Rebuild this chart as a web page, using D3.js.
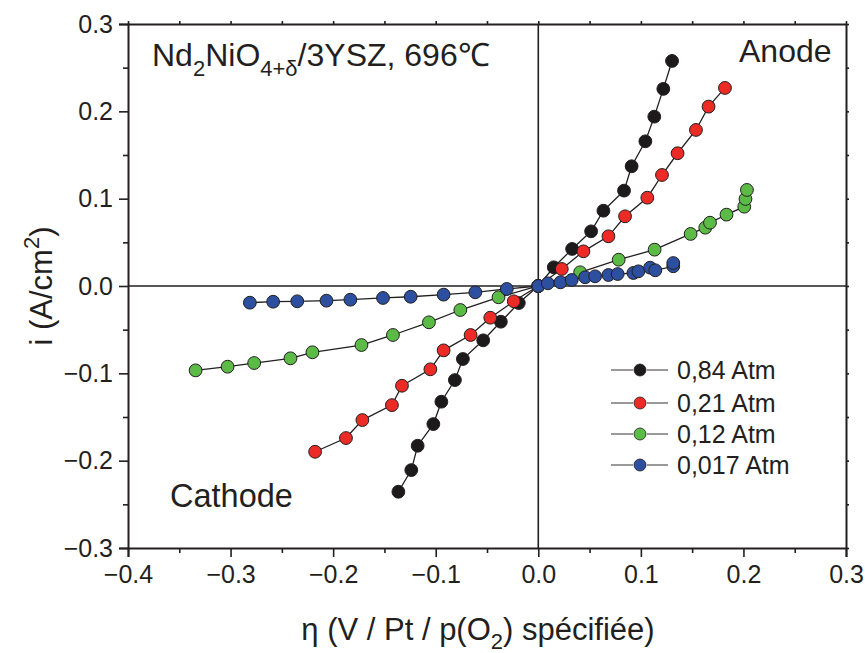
<!DOCTYPE html>
<html><head><meta charset="utf-8">
<script src="https://cdn.jsdelivr.net/npm/d3@7"></script>
<style>
body{margin:0;background:#fff}
text{font-family:"Liberation Sans",Arial,Helvetica,sans-serif;fill:#231f20}
</style>
</head><body>
<svg id="c" width="865" height="653"></svg>
<script>
// ---- data (eta in V, i in A/cm2) ----
const seriesLabels = ["0,84 Atm", "0,21 Atm", "0,12 Atm", "0,017 Atm"];
const seriesColors = ["#1c1a1b", "#ec2a26", "#5cbb47", "#2d4f9f"];
const atm084 = [[-0.1364,-0.2356],[-0.1238,-0.2108],[-0.1176,-0.1829],[-0.1023,-0.1581],[-0.0945,-0.1325],[-0.0813,-0.1077],[-0.0735,-0.0836],[-0.0537,-0.0622],[-0.0365,-0.0409],[-0.0190,-0.0195],[0,0],[0.0151,0.0214],[0.0330,0.0424],[0.0515,0.0626],[0.0635,0.0862],[0.0836,0.1092],[0.0910,0.1371],[0.1044,0.1657],[0.1131,0.1939],[0.1219,0.2257],[0.1304,0.2577]];
const atm021 = [[-0.2176,-0.1898],[-0.1875,-0.1741],[-0.1715,-0.1535],[-0.1427,-0.1364],[-0.1329,-0.1142],[-0.1052,-0.0954],[-0.0923,-0.0737],[-0.0660,-0.0561],[-0.0468,-0.0363],[-0.0239,-0.0175],[0,0],[0.0229,0.0195],[0.0440,0.0397],[0.0684,0.0569],[0.0846,0.0798],[0.1063,0.1011],[0.1206,0.1271],[0.1358,0.1520],[0.1537,0.1787],[0.1660,0.2054],[0.1820,0.2268]];
const atm012 = [[-0.3341,-0.0966],[-0.3029,-0.0924],[-0.2770,-0.0882],[-0.2416,-0.0828],[-0.2202,-0.0759],[-0.1724,-0.0676],[-0.1417,-0.0561],[-0.1066,-0.0416],[-0.0760,-0.0275],[-0.0388,-0.0129],[0,0],[0.0408,0.0157],[0.0784,0.0301],[0.1134,0.0416],[0.1485,0.0596],[0.1628,0.0668],[0.1674,0.0725],[0.1835,0.0817],[0.2008,0.0908],[0.2020,0.0997],[0.2034,0.1100]];
const atm0017 = [[-0.2812,-0.0191],[-0.2585,-0.0180],[-0.2350,-0.0175],[-0.2065,-0.0168],[-0.1832,-0.0157],[-0.1514,-0.0137],[-0.1244,-0.0123],[-0.0923,-0.0099],[-0.0614,-0.0072],[-0.0307,-0.0034],[0,0],[0.0093,0.0031],[0.0216,0.0042],[0.0326,0.0069],[0.0457,0.0100],[0.0554,0.0111],[0.0684,0.0126],[0.0774,0.0137],[0.0927,0.0149],[0.0976,0.0168],[0.1090,0.0210],[0.1141,0.0180],[0.1316,0.0226],[0.1316,0.0263]];
const xTicks = [-0.4,-0.3,-0.2,-0.1,0.0,0.1,0.2,0.3];
const yTicks = [-0.3,-0.2,-0.1,0.0,0.1,0.2,0.3];
const xMinor = [-0.35,-0.25,-0.15,-0.05,0.05,0.15,0.25];
const yMinor = [-0.25,-0.15,-0.05,0.05,0.15,0.25];

const allSeries = [atm084, atm021, atm012, atm0017];

const svg = d3.select("#c");
const L = 128, R = 846, T = 24, B = 548;
const x = d3.scaleLinear().domain([-0.4, 0.3]).range([L, R]);
const y = d3.scaleLinear().domain([-0.3, 0.3]).range([B, T]);
const fmt = d3.format(".1f");

// zero lines
svg.append("line").attr("x1", x(0)).attr("x2", x(0)).attr("y1", T).attr("y2", B).attr("stroke", "#231f20").attr("stroke-width", 1.6);
svg.append("line").attr("x1", L).attr("x2", R).attr("y1", y(0)).attr("y2", y(0)).attr("stroke", "#231f20").attr("stroke-width", 1.6);

// axes
const gx = svg.append("g").attr("transform", `translate(0,${B})`)
  .call(d3.axisBottom(x).tickValues(xTicks).tickFormat(fmt).tickSize(9).tickPadding(8));
svg.append("g").attr("transform", `translate(0,${B})`)
  .call(d3.axisBottom(x).tickValues(xMinor).tickFormat("").tickSize(5)).select(".domain").remove();
const gy = svg.append("g").attr("transform", `translate(${L},0)`)
  .call(d3.axisLeft(y).tickValues(yTicks).tickFormat(fmt).tickSize(9).tickPadding(6));
svg.append("g").attr("transform", `translate(${L},0)`)
  .call(d3.axisLeft(y).tickValues(yMinor).tickFormat("").tickSize(5)).select(".domain").remove();
// mirrored small ticks
svg.append("g").attr("transform", `translate(0,${T})`)
  .call(d3.axisTop(x).tickValues(xTicks.concat(xMinor)).tickFormat("").tickSize(3).tickSizeOuter(0));
svg.append("g").attr("transform", `translate(${R},0)`)
  .call(d3.axisRight(y).tickValues(yTicks.concat(yMinor)).tickFormat("").tickSize(3).tickSizeOuter(0));

svg.selectAll(".domain").attr("stroke", "#231f20").attr("stroke-width", 2);
svg.selectAll(".tick line").attr("stroke", "#231f20").attr("stroke-width", 1.6);
gx.selectAll("text").attr("font-size", 25).attr("fill", "#231f20");
gy.selectAll("text").attr("font-size", 25).attr("fill", "#231f20");

// series
const line = d3.line().x(d => x(d[0])).y(d => y(d[1]));
allSeries.forEach((s, k) => {
  const g = svg.append("g");
  g.append("path").datum(s).attr("d", line).attr("fill", "none").attr("stroke", "#231f20").attr("stroke-width", 1.3);
  g.selectAll("circle").data(s).join("circle")
    .attr("cx", d => x(d[0])).attr("cy", d => y(d[1])).attr("r", 6.4)
    .attr("fill", seriesColors[k]).attr("stroke", "#231f20").attr("stroke-width", 1);
});

// legend
const legY = [370, 403, 434, 465];
seriesLabels.forEach((lab, k) => {
  const g = svg.append("g").attr("transform", `translate(0,${legY[k]})`);
  g.append("line").attr("x1", 611).attr("x2", 633).attr("stroke", "#555").attr("stroke-width", 1.2);
  g.append("line").attr("x1", 647).attr("x2", 668).attr("stroke", "#555").attr("stroke-width", 1.2);
  g.append("circle").attr("cx", 640).attr("r", 6).attr("fill", seriesColors[k]).attr("stroke", "#231f20").attr("stroke-width", 0.8);
  g.append("text").attr("x", 677).attr("y", 9).attr("font-size", 25).text(lab);
});

// annotations
const t1 = svg.append("text").attr("x", 152).attr("y", 66).attr("font-size", 32);
t1.append("tspan").text("Nd");
t1.append("tspan").attr("font-size", 22).attr("dy", 10).text("2");
t1.append("tspan").attr("dy", -10).text("NiO");
t1.append("tspan").attr("font-size", 22).attr("dy", 10).text("4+δ");
t1.append("tspan").attr("dy", -10).text("/3YSZ, 696℃");

svg.append("text").attr("x", 739).attr("y", 62).attr("font-size", 32).text("Anode");
svg.append("text").attr("x", 170).attr("y", 507).attr("font-size", 32.5).text("Cathode");

// axis titles
const xt = svg.append("text").attr("x", 478).attr("y", 640).attr("text-anchor", "middle").attr("font-size", 31);
xt.append("tspan").text("η (V / Pt / p(O");
xt.append("tspan").attr("font-size", 22).attr("dy", 9).text("2");
xt.append("tspan").attr("dy", -9).text(") spécifiée)");

const yt = svg.append("text").attr("transform", "translate(52,286) rotate(-90)").attr("text-anchor", "middle").attr("font-size", 31);
yt.append("tspan").text("i (A/cm");
yt.append("tspan").attr("font-size", 22).attr("dy", -13).text("2");
yt.append("tspan").attr("dy", 13).text(")");
</script>
</body></html>
